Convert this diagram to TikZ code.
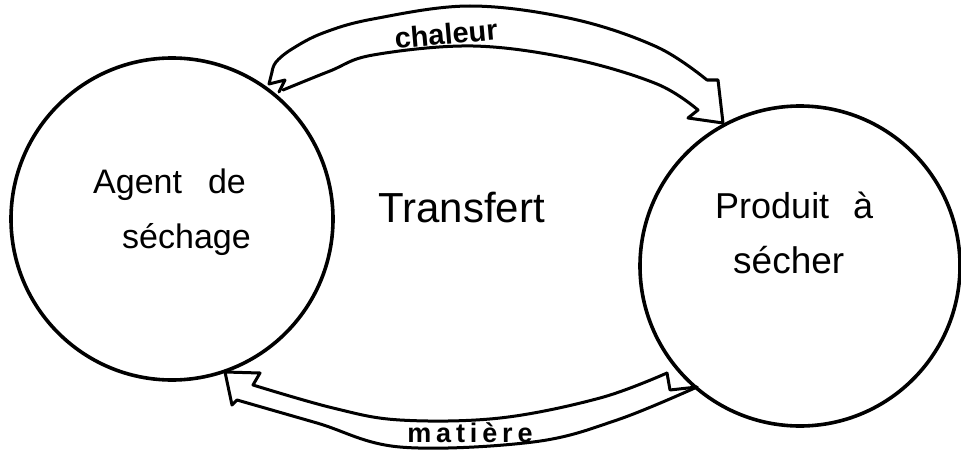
\documentclass[tikz,border=0pt]{standalone}
\usepackage{fontspec}
\setmainfont{Liberation Sans}
\begin{document}
\begin{tikzpicture}[x=1pt,y=-1pt,line join=round,line cap=round,
  ring/.style={circle,draw,line width=3.6pt,inner sep=0pt},
  band/.style={draw,line width=3pt},
  hand/.style={inner sep=0pt,font=\fontsize{34}{40}\selectfont},
  flowlbl/.style={inner sep=0pt}]
\useasboundingbox (0,0) rectangle (961,452);
\fill[white] (0,0) rectangle (961,452);

% circles
\node[ring,minimum size=322pt] (agent) at (172,219) {};
\node[ring,minimum size=320pt] (produit) at (800,266) {};

% texts
\node[hand,anchor=base west] (t1) at (93,193) {Agent\hspace{26pt}de};
\node[hand,anchor=base west] (t2) at (122,248) {séchage};
\node[hand,anchor=base west,font=\fontsize{36}{40}\selectfont] (t3) at (715,218) {Produit\hspace{24pt}à};
\node[hand,anchor=base west,font=\fontsize{37}{40}\selectfont] (t4) at (733,273) {sécher};
\node[hand,anchor=base west,font=\fontsize{42}{46}\selectfont] (t5) at (378,222) {Transfert};

% top band: chaleur (agent -> produit)
\draw[band] plot[smooth,tension=0.6] coordinates {(272,72) (276,62) (292,49) (323,33) (373,19) (470,6) (573,19) (657,47) (707,80)}
  -- (718,80) -- (723,123) -- (688,118)
  -- plot[smooth,tension=0.6] coordinates {(698,110) (657,84) (573,59) (473,46) (373,55) (330,71) (283,90)};
\draw[band] (272,72) -- (269,84) -- (285,80) -- (279,92);

% bottom band: matiere (produit -> agent)
\draw[band] plot[smooth,tension=0.6] coordinates {(667,373) (600,398) (500,418) (400,420) (333,408) (253,385)}
  -- (260,373) -- (225,372) -- (232,405)
  -- plot[smooth,tension=0.6] coordinates {(237,400) (317,423) (400,447) (533,442) (617,420) (697,387)};
\draw[band] (667,373) -- (670,390) -- (697,387);

% band labels
\node[flowlbl,rotate=5,font=\fontsize{29}{32}\selectfont\bfseries] (chal) at (446,34) {chaleur};
\node[flowlbl,font=\fontsize{27}{30}\selectfont\bfseries\addfontfeatures{LetterSpace=18}] (mat) at (470,433) {matière};
\end{tikzpicture}
\end{document}
